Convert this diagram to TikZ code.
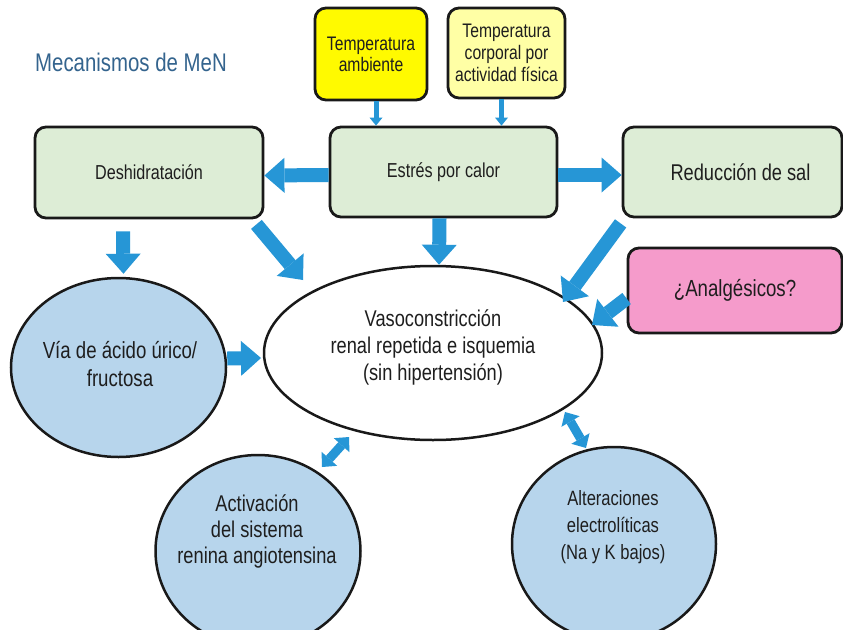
\documentclass[tikz,border=0pt]{standalone}
\usepackage{fontspec}
\setmainfont{Liberation Sans}[FakeStretch=0.8]
\usetikzlibrary{arrows.meta,shapes.geometric}
\definecolor{arrowblue}{RGB}{38,150,214}
\definecolor{boxgreen}{RGB}{221,237,214}
\definecolor{boxpink}{RGB}{245,155,203}
\definecolor{yelstrong}{RGB}{255,250,0}
\definecolor{yellight}{RGB}{255,255,165}
\definecolor{circblue}{RGB}{183,213,236}
\definecolor{titleblue}{RGB}{52,100,142}
\definecolor{txt}{RGB}{30,30,30}
\newcommand{\fs}[2]{\fontsize{#1}{#2}\selectfont}
\begin{document}
\begin{tikzpicture}[x=1pt,y=-1pt,
  rbox/.style={draw=black!90, line width=2.8pt, rounded corners=11pt, align=center, text=txt, inner sep=0pt},
  roundnode/.style={ellipse, draw=black!90, line width=2.5pt, inner sep=0pt},
  roundtext/.style={align=center, text=txt, inner sep=0pt},
  bigarrow/.style={draw=arrowblue, line width=14pt, -{Triangle[width=35pt,length=20pt,line width=0pt]}},
  dblarrow/.style={draw=arrowblue, line width=9pt, {Triangle[width=21pt,length=11pt,line width=0pt]}-{Triangle[width=21pt,length=11pt,line width=0pt]}},
  thinarrow/.style={draw=arrowblue, line width=5pt, -{Triangle[width=13pt,length=8pt,line width=0pt]}}]
\useasboundingbox (0,0) rectangle (843,629);
\clip (0,0) rectangle (843,629);
\fill[white] (0,0) rectangle (843,629);

% title
\node[anchor=west, text=titleblue, font=\fs{25.5}{28}, inner sep=0pt] (title) at (35,62) {Mecanismos de MeN};

% top yellow boxes
\node[rbox, fill=yelstrong, minimum width=112pt, minimum height=92pt, font=\fs{19.6}{21}] (tamb) at (371,54) {Temperatura\\ambiente};
\node[rbox, fill=yellight, minimum width=117pt, minimum height=90pt, font=\fs{19.6}{22}] (tcorp) at (506.5,53) {Temperatura\\corporal por\\\hspace*{-4pt}actividad física\hspace*{-4pt}};

% green boxes
\node[rbox, fill=boxgreen, minimum width=228pt, minimum height=91pt, font=\fs{20.2}{22}] (desh) at (149,172.5) {Deshidratación};
\node[rbox, fill=boxgreen, minimum width=227pt, minimum height=90pt, font=\fs{20.2}{22}] (estres) at (443.5,172) {Estrés por calor};
\node[rbox, fill=boxgreen, minimum width=219pt, minimum height=90pt, font=\fs{22.8}{24}] (reduc) at (732.5,172) {\hspace*{16pt}Reducción de sal};

% pink box
\node[rbox, fill=boxpink, minimum width=214pt, minimum height=85pt, font=\fs{23.3}{24}] (analg) at (735,290.5) {¿Analgésicos?};

% central ellipse
\node[roundnode, fill=white, minimum width=338pt, minimum height=174pt] (vaso) at (433,353) {};
\node[roundtext, font=\fs{22.8}{27}] (vasotxt) at (433,347) {Vasoconstricción\\renal repetida e isquemia\\(sin hipertensión)};

% blue circles
\node[roundnode, fill=circblue, minimum width=215pt, minimum height=179pt] (via) at (118.5,367.5) {};
\node[roundtext, font=\fs{23.3}{28}] (viatxt) at (120,364) {Vía de ácido úrico/\\fructosa};
\node[roundnode, fill=circblue, minimum width=205pt, minimum height=192pt] (activ) at (258,551) {};
\node[roundtext, font=\fs{22.8}{26}] (activtxt) at (257,531) {Activación\\del sistema\\renina angiotensina};
\node[roundnode, fill=circblue, minimum width=204pt, minimum height=194pt] (alter) at (614,544) {};
\node[roundtext, font=\fs{20.7}{27}] (altertxt) at (613,527) {Alteraciones\\electrolíticas\\(Na y K bajos)};

% thin arrows from yellow boxes
\draw[thinarrow] ([xshift=5pt]tamb.south) -- ([xshift=5pt]tamb.south |- estres.north);
\draw[thinarrow] ([xshift=-5pt]tcorp.south) -- ([xshift=-5pt]tcorp.south |- estres.north);

% big arrows
\draw[bigarrow] ([shift={(0,3)}]estres.west) -- ([shift={(0,3)}]desh.east);
\draw[bigarrow] ([shift={(0,3)}]estres.east) -- ([shift={(0,3)}]reduc.west);
\draw[bigarrow] ([xshift=-4pt]estres.south) -- ([xshift=6pt]vaso.north);
\draw[bigarrow, shorten >=3pt] ([xshift=-26pt,yshift=-12pt]desh.south) -- ([xshift=5pt]via.north);
\draw[bigarrow] ([shift={(-8,5)}]desh.south east) -- ([shift={(-130,-73)}]vaso.center);
\draw[bigarrow] ([shift={(-1,5)}]reduc.south west) -- ([shift={(130,-51)}]vaso.center);
\draw[bigarrow] ([shift={(0,8)}]analg.west) -- ([shift={(159,-28)}]vaso.center);
\draw[bigarrow] ([shift={(0,-9)}]via.east) -- ([shift={(-172,5)}]vaso.center);

% double arrows
\draw[dblarrow] ([shift={(64,-84)}]activ.center) -- ([shift={(-84,84)}]vaso.center);
\draw[dblarrow] ([shift={(132,59)}]vaso.center) -- ([shift={(-28,-96)}]alter.center);
\end{tikzpicture}
\end{document}
